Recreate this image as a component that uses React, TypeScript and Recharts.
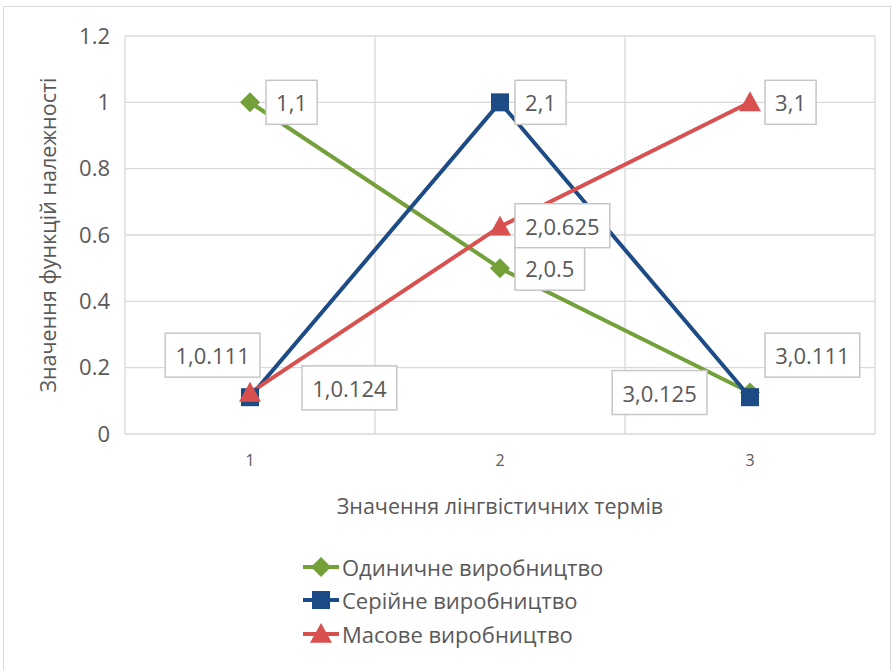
import React from "react";
import {
  LineChart,
  Line,
  XAxis,
  YAxis,
  CartesianGrid,
  ReferenceLine,
  LabelList,
  Legend,
  Label,
} from "recharts";

const CATEGORIES = [1, 2, 3];
const SINGLE = [1, 0.5, 0.125];
const SERIAL = [0.111, 1, 0.111];
const MASS = [0.124, 0.625, 1];
const Y_TICKS = [0, 0.2, 0.4, 0.6, 0.8, 1, 1.2];
const BOUNDARIES = [0.5, 1.5, 2.5, 3.5];

const SERIES = [
  { key: "single", name: "Одиничне виробництво", color: "#74a03a", shape: "diamond" },
  { key: "serial", name: "Серійне виробництво", color: "#1d4b85", shape: "square" },
  { key: "mass", name: "Масове виробництво", color: "#d8514f", shape: "triangle" },
];

// where each data label box sits relative to its point:
// side = which box edge is anchored, dx = distance to that edge, dy = box centre shift
type Place = { side: "left" | "right"; dx: number; dy: number };
const LABEL_PLACES: Record<string, Place[]> = {
  single: [
    { side: "left", dx: 16, dy: 0 },
    { side: "left", dx: 15, dy: 0 },
    { side: "right", dx: -43, dy: 0 },
  ],
  serial: [
    { side: "right", dx: 10, dy: -42 },
    { side: "left", dx: 15, dy: 0 },
    { side: "left", dx: 15, dy: -42 },
  ],
  mass: [
    { side: "left", dx: 52, dy: -5 },
    { side: "left", dx: 15, dy: -1 },
    { side: "left", dx: 15, dy: 0 },
  ],
};

const data = CATEGORIES.map((x, i) => ({
  x,
  single: SINGLE[i],
  serial: SERIAL[i],
  mass: MASS[i],
}));

const FONT = "'Open Sans', 'Noto Sans', sans-serif";
const TEXT = "#595959";
const GRID = "#d9d9d9";
const LABEL_FS = 22;

function textWidth(s: string, fs: number) {
  let w = 0;
  for (const ch of s) w += ch === "," || ch === "." ? 0.27 * fs : 0.572 * fs;
  return w;
}

function Marker({ shape, cx, cy, color }: { shape: string; cx: number; cy: number; color: string }) {
  if (shape === "diamond") {
    const r = 10;
    return <polygon points={`${cx},${cy - r} ${cx + r},${cy} ${cx},${cy + r} ${cx - r},${cy}`} fill={color} />;
  }
  if (shape === "square") {
    const r = 9;
    return <rect x={cx - r} y={cy - r} width={2 * r} height={2 * r} fill={color} />;
  }
  const r = 11;
  return <polygon points={`${cx},${cy - r} ${cx + r},${cy + r * 0.8} ${cx - r},${cy + r * 0.8}`} fill={color} />;
}

function makeDot(shape: string, color: string) {
  return (p: any) => {
    if (p.cx == null || p.cy == null) return <g key={p.index} />;
    return <Marker key={p.index} shape={shape} cx={p.cx} cy={p.cy} color={color} />;
  };
}

function makeLabel(key: string) {
  return (p: any) => {
    const { x, y, value, index } = p;
    if (x == null || y == null) return null;
    const text = `${CATEGORIES[index]},${value}`;
    const place = LABEL_PLACES[key][index];
    const w = textWidth(text, LABEL_FS) + 20;
    const h = 44;
    const left = place.side === "left" ? x + place.dx : x + place.dx - w;
    const cy = y + place.dy;
    return (
      <g key={`${key}-${index}`}>
        <rect x={left} y={cy - h / 2} width={w} height={h} fill="#fff" stroke="#c6c6c6" strokeWidth={1.5} />
        <text
          x={left + w / 2}
          y={cy}
          textAnchor="middle"
          dominantBaseline="central"
          fontSize={LABEL_FS}
          fontFamily={FONT}
          fill={TEXT}
        >
          {text}
        </text>
      </g>
    );
  };
}

function LegendBox() {
  return (
    <div style={{ fontFamily: FONT, fontSize: 22, color: TEXT }}>
      {SERIES.map((s) => (
        <div key={s.key} style={{ display: "flex", alignItems: "center", height: 33.5 }}>
          <svg width={36} height={24} style={{ marginRight: 3 }}>
            <line x1={0} y1={12} x2={36} y2={12} stroke={s.color} strokeWidth={4} />
            <Marker shape={s.shape} cx={18} cy={12} color={s.color} />
          </svg>
          <span>{s.name}</span>
        </div>
      ))}
    </div>
  );
}

export default function App() {
  return (
    <div style={{ position: "absolute", left: 0, top: 0, width: 893, height: 670, background: "#fff", overflow: "hidden" }}>
      <div
        style={{
          position: "absolute",
          left: 3,
          top: 6,
          width: 886,
          height: 670,
          border: "1px solid #d9d9d9",
        }}
      />
      <LineChart
        width={893}
        height={670}
        data={data}
        margin={{ top: 36, right: 18, left: 25, bottom: 146 }}
        style={{ fontFamily: FONT }}
      >
        <CartesianGrid vertical={false} stroke={GRID} strokeWidth={1.3} />
        {BOUNDARIES.map((b) => (
          <ReferenceLine key={b} x={b} stroke={GRID} strokeWidth={1.3} />
        ))}
        <XAxis
          dataKey="x"
          type="number"
          domain={[0.5, 3.5]}
          ticks={CATEGORIES}
          axisLine={false}
          tickLine={false}
          height={90}
          tickMargin={15}
          tick={{ fill: TEXT, fontSize: 16, fontFamily: FONT }}
        >
          <Label
            value="Значення лінгвістичних термів"
            position="insideBottom"
            offset={10}
            fill={TEXT}
            fontSize={21.5}
            fontFamily={FONT}
          />
        </XAxis>
        <YAxis
          type="number"
          domain={[0, 1.2]}
          ticks={Y_TICKS}
          axisLine={false}
          tickLine={false}
          width={100}
          tickMargin={9}
          tick={{ fill: TEXT, fontSize: 22, fontFamily: FONT }}
        >
          <Label
            value="Значення функцій належності"
            angle={-90}
            position="insideLeft"
            offset={23}
            fill={TEXT}
            fontSize={21.5}
            fontFamily={FONT}
            style={{ textAnchor: "middle" }}
          />
        </YAxis>
        {SERIES.map((s) => (
          <Line
            key={s.key}
            dataKey={s.key}
            name={s.name}
            stroke={s.color}
            strokeWidth={4}
            dot={makeDot(s.shape, s.color)}
            activeDot={false}
            isAnimationActive={false}
          />
        ))}
        {SERIES.map((s) => (
          <Line
            key={`${s.key}-labels`}
            dataKey={s.key}
            stroke="none"
            dot={false}
            activeDot={false}
            legendType="none"
            isAnimationActive={false}
          >
            <LabelList dataKey={s.key} content={makeLabel(s.key)} />
          </Line>
        ))}
        <Legend
          layout="vertical"
          align="center"
          verticalAlign="middle"
          content={() => <LegendBox />}
          wrapperStyle={{ top: 550, left: 303, width: 330 }}
        />
      </LineChart>
    </div>
  );
}
